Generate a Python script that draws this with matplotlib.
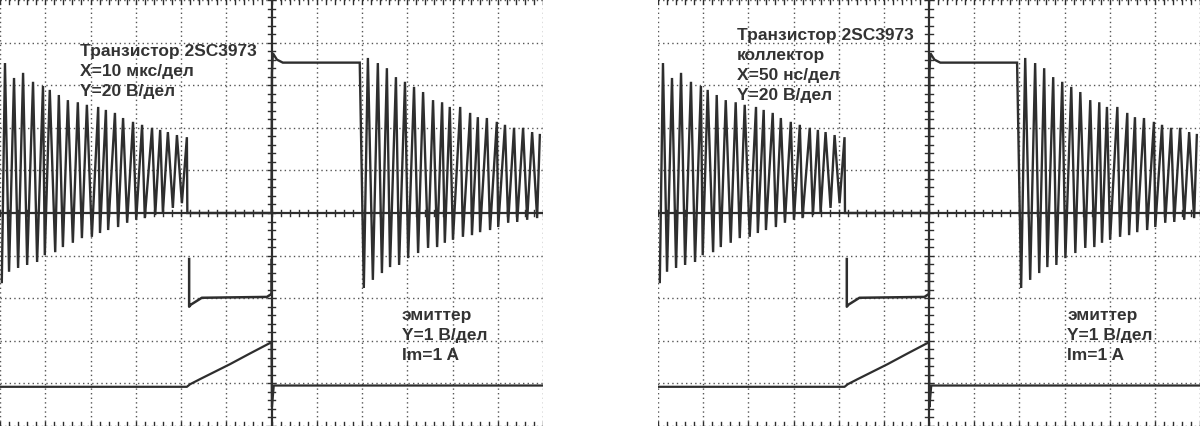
import numpy as np
import matplotlib
matplotlib.use("Agg")
import matplotlib.pyplot as plt

# screen is 12 x 10 divisions, values below are in divisions (centre = 0)

# collector voltage, first ringing burst (peak positions and heights)
burst1_top_x = [0.11, 0.31, 0.51, 0.73, 0.95, 1.10, 1.30, 1.50, 1.72, 1.92, 2.17,
                2.34, 2.54, 2.72, 2.94, 3.14, 3.36, 3.54, 3.71, 3.91, 4.13]
burst1_top = [3.52, 3.17, 3.29, 3.08, 2.98, 2.89, 2.77, 2.65, 2.60, 2.54, 2.49,
              2.42, 2.35, 2.23, 2.14, 2.07, 2.00, 1.95, 1.90, 1.83, 1.78]
burst1_bot_x = [0.04, 0.20, 0.40, 0.60, 0.82, 0.99, 1.22, 1.39, 1.61, 1.81, 2.03,
                2.21, 2.39, 2.61, 2.81, 3.01, 3.20, 3.43, 3.60, 3.82, 4.02]
burst1_bot = [-1.62, -1.38, -1.29, -1.22, -1.15, -0.99, -0.92, -0.80, -0.70, -0.59, -0.56,
              -0.47, -0.40, -0.33, -0.23, -0.16, -0.12, -0.05, 0.00, 0.12, 0.23]

# collector voltage, second ringing burst
burst2_top_x = [8.13, 8.35, 8.55, 8.75, 8.95, 9.15, 9.35, 9.57, 9.77, 9.94,
                10.17, 10.39, 10.56, 10.76, 10.98, 11.16, 11.36, 11.56, 11.76, 11.93]
burst2_top = [3.64, 3.52, 3.40, 3.19, 3.08, 2.96, 2.84, 2.65, 2.60, 2.49,
              2.49, 2.35, 2.25, 2.23, 2.14, 2.07, 2.00, 2.00, 1.90, 1.83]
burst2_bot_x = [8.04, 8.24, 8.44, 8.62, 8.82, 9.02, 9.24, 9.46, 9.66, 9.83,
                10.01, 10.23, 10.43, 10.61, 10.83, 11.01, 11.23, 11.43, 11.65, 11.87]
burst2_bot = [-1.76, -1.57, -1.41, -1.27, -1.22, -1.06, -0.94, -0.82, -0.80, -0.70,
              -0.63, -0.56, -0.52, -0.45, -0.40, -0.33, -0.23, -0.21, -0.16, -0.12]

# collector voltage between bursts (transistor off, then on)
gap_x = [4.14, 6.00, 6.01, 6.03, 6.12, 6.25, 7.95]
gap_y = [0.00, 0.00, 3.30, 3.75, 3.60, 3.53, 3.53]

# emitter current trace
emit_x = [0.00, 4.13, 4.20, 4.42, 5.08, 5.52, 5.97, 6.00, 6.01, 6.05, 12.00]
emit_y = [-4.08, -4.08, -4.02, -3.90, -3.55, -3.30, -3.05, -3.05, -4.55, -4.05, -4.05]

# pulse trace while transistor is off
pulse_x = [4.18, 4.18, 4.22, 4.46, 5.90, 5.97, 6.00, 6.00]
pulse_y = [-1.08, -2.20, -2.15, -1.99, -1.97, -1.92, -1.92, -1.10]

labels_left = [["Транзистор 2SC3973", "X=10 мкс/дел", "Y=20 В/дел"],
               ["эмиттер", "Y=1 В/дел", "Im=1 A"]]
labels_right = [["Транзистор 2SC3973", "коллектор", "X=50 нс/дел", "Y=20 В/дел"],
                ["эмиттер", "Y=1 В/дел", "Im=1 A"]]

INK = "#2e2e2e"
GRID = "#555555"


def px(x, y):
    # pixel position inside a panel -> divisions
    return x / 45.25, (213 - y) / 42.6


def zigzag(tx, ty, bx, by):
    xs = np.concatenate([tx, bx])
    ys = np.concatenate([ty, by])
    order = np.argsort(xs, kind="stable")
    return xs[order], ys[order]


def draw_screen(ax, labels, top_pos, bottom_pos):
    ax.set_xlim(0, 12)
    ax.set_ylim(-5, 5)
    ax.axis("off")

    # dotted graticule
    for gx in range(0, 13):
        if gx != 6:
            ax.plot([gx, gx], [-5, 5], color=GRID, lw=1.0, ls=(0, (1, 2.3)), zorder=1)
    for gy in range(-5, 6):
        if gy != 0:
            ax.plot([0, 12], [gy, gy], color=GRID, lw=1.0, ls=(0, (1, 2.3)), zorder=1)

    # centre axes with minor ticks
    ax.plot([0, 12], [0, 0], color=INK, lw=1.6, zorder=2)
    ax.plot([6, 6], [-5, 5], color=INK, lw=1.6, zorder=2)
    for t in np.arange(0, 12.01, 0.2):
        ax.plot([t, t], [-0.08, 0.08], color=INK, lw=1.0, zorder=2)
        ax.plot([t, t], [4.9, 5], color=INK, lw=1.0, zorder=2)
        ax.plot([t, t], [-5, -4.9], color=INK, lw=1.0, zorder=2)
    for t in np.arange(-5, 5.01, 0.2):
        ax.plot([5.92, 6.08], [t, t], color=INK, lw=1.0, zorder=2)

    # traces
    x1, y1 = zigzag(burst1_top_x, burst1_top, burst1_bot_x, burst1_bot)
    x2, y2 = zigzag(burst2_top_x, burst2_top, burst2_bot_x, burst2_bot)
    cx = np.concatenate([x1, gap_x, x2])
    cy = np.concatenate([y1, gap_y, y2])
    ax.plot(cx, cy, color=INK, lw=1.7, zorder=3, solid_joinstyle="miter")
    ax.plot(emit_x, emit_y, color=INK, lw=1.6, zorder=3)
    ax.plot(pulse_x, pulse_y, color=INK, lw=1.8, zorder=3)

    for lines, (x0, y0) in zip(labels, [top_pos, bottom_pos]):
        for i, s in enumerate(lines):
            tx, ty = px(x0, y0 + i * 20)
            ax.text(tx, ty, s, fontsize=12.5, fontweight="bold", color="#333333",
                    family="Liberation Sans", va="baseline", ha="left", zorder=4)


fig = plt.figure(figsize=(12, 4.26), dpi=100)
ax1 = fig.add_axes([0, 0, 543 / 1200, 1])
ax2 = fig.add_axes([658 / 1200, 0, 542 / 1200, 1])

draw_screen(ax1, labels_left, (80, 56), (402, 320))
draw_screen(ax2, labels_right, (79, 40), (410, 320))

fig.savefig("out.png", dpi=100, facecolor="white")
